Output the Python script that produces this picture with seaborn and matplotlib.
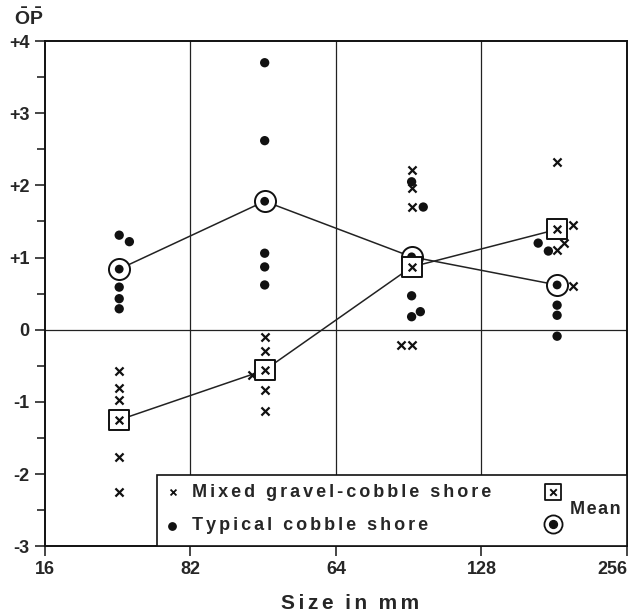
import pandas as pd
import matplotlib.pyplot as plt
import seaborn as sns
from matplotlib.patches import Rectangle

# x positions are in size-class units (0 = 16 mm, 1 = 32 mm, 2 = 64 mm, ...)
mixed_x = [0.51, 0.51, 0.51, 0.51, 0.51,
           1.51, 1.51, 1.51, 1.51, 1.42,
           2.52, 2.52, 2.52, 2.45, 2.52,
           3.52, 3.52, 3.63, 3.63, 3.57]
mixed_y = [-0.57, -0.81, -0.97, -1.76, -2.25,
           -0.10, -0.29, -0.84, -1.12, -0.63,
           2.21, 1.96, 1.70, -0.21, -0.21,
           2.33, 1.11, 1.45, 0.60, 1.20]
typical_x = [0.51, 0.58, 0.51, 0.51, 0.51,
             1.51, 1.51, 1.51, 1.51, 1.51,
             2.52, 2.52, 2.52, 2.60, 2.58,
             3.39, 3.46, 3.52, 3.52, 3.52]
typical_y = [1.31, 1.22, 0.59, 0.43, 0.29,
             3.70, 2.62, 1.06, 0.87, 0.62,
             2.05, 0.47, 0.18, 1.70, 0.25,
             1.20, 1.09, 0.34, 0.20, -0.09]
mean_x = [0.51, 1.51, 2.52, 3.52]
mixed_mean = [-1.25, -0.56, 0.87, 1.39]
typical_mean = [0.84, 1.78, 1.01, 0.62]

x_ticks = [0, 1, 2, 3, 4]
x_labels = ['16', '82', '64', '128', '256']
y_ticks = [4, 3, 2, 1, 0, -1, -2, -3]
y_labels = ['+4', '+3', '+2', '+1', '0', '-1', '-2', '-3']

sns.set_style('white')
plt.rcParams['font.family'] = ['Liberation Sans', 'DejaVu Sans']
plt.rcParams['font.weight'] = 'bold'
plt.rcParams['mathtext.fontset'] = 'custom'
plt.rcParams['mathtext.bf'] = 'Liberation Sans:bold'
plt.rcParams['mathtext.rm'] = 'Liberation Sans:bold'

HAIR = '\u200a'


def spaced(s, sep=HAIR * 2):
    # the old lettering is spaced out
    return sep.join(s)


fig = plt.figure(figsize=(6.43, 6.13), dpi=100)
ax = fig.add_axes([0.070, 0.109, 0.905, 0.824])

pts_mixed = pd.DataFrame({'x': mixed_x, 'y': mixed_y})
pts_typical = pd.DataFrame({'x': typical_x, 'y': typical_y})
means = pd.DataFrame({'x': mean_x, 'mixed': mixed_mean, 'typical': typical_mean})

# grid
for xv in [1, 2, 3]:
    ax.axvline(xv, color='#222222', lw=0.9, zorder=1)
ax.axhline(0, color='#222222', lw=0.9, zorder=1)

# mean lines
sns.lineplot(data=means, x='x', y='mixed', color='#222222', lw=1.1,
             sort=False, estimator=None, ax=ax, zorder=2)
sns.lineplot(data=means, x='x', y='typical', color='#222222', lw=1.1,
             sort=False, estimator=None, ax=ax, zorder=2)

# data points
sns.scatterplot(data=pts_mixed, x='x', y='y', marker='x', s=34, color='#111111',
                linewidth=1.6, ax=ax, zorder=3)
sns.scatterplot(data=pts_typical, x='x', y='y', marker='o', s=45, color='#111111',
                edgecolor='none', ax=ax, zorder=3)

# mean markers
sns.scatterplot(data=means, x='x', y='typical', marker='o', s=230, color='white',
                edgecolor='#111111', linewidth=1.4, ax=ax, zorder=4)
sns.scatterplot(data=means, x='x', y='typical', marker='o', s=40, color='#111111',
                edgecolor='none', ax=ax, zorder=5)
sns.scatterplot(data=means, x='x', y='mixed', marker='s', s=190, color='white',
                edgecolor='#111111', linewidth=1.4, ax=ax, zorder=6)
sns.scatterplot(data=means, x='x', y='mixed', marker='x', s=30, color='#111111',
                linewidth=1.6, ax=ax, zorder=7)

ax.set_xlim(0, 4)
ax.set_ylim(-3, 4)
ax.set_xticks(x_ticks)
ax.set_xticklabels(x_labels, fontsize=13, fontweight='bold')
ax.get_xticklabels()[-1].set_horizontalalignment('right')
ax.set_yticks(y_ticks)
ax.set_yticklabels(y_labels, fontsize=13, fontweight='bold')
ax.set_yticks([3.5, 2.5, 1.5, 0.5, -0.5, -1.5, -2.5], minor=True)
ax.tick_params(axis='both', which='major', direction='out', length=7, width=1.2,
               left=True, bottom=True, pad=4)
ax.tick_params(axis='y', which='minor', direction='out', length=6, width=1.2, left=True)
for sp in ax.spines.values():
    sp.set_linewidth(1.4)
    sp.set_color('#111111')

ax.set_xlabel('')
ax.set_ylabel('')
xlab = '  '.join(spaced(w, HAIR * 2) for w in ['Size', 'in', 'mm'])
fig.text(350 / 643, 1 - 609 / 613, xlab, fontsize=15,
         fontweight='bold', ha='center', va='baseline')
fig.text(0.022, 0.952, r'$\mathbf{\bar{O}\bar{P}}$', fontsize=14, va='bottom', ha='left')

# legend box
ax.add_patch(Rectangle((0.192, 0), 0.808, 0.1406, transform=ax.transAxes,
                       facecolor='white', edgecolor='#111111', lw=1.2, zorder=8))
ax.scatter([0.22], [0.107], marker='x', s=18, color='#111111', linewidth=1.3,
           transform=ax.transAxes, zorder=9, clip_on=False)
ax.scatter([0.218], [0.04], marker='o', s=28, color='#111111',
           transform=ax.transAxes, zorder=9, clip_on=False)
ax.text(0.252, 0.107, spaced('Mixed gravel-cobble shore'), transform=ax.transAxes,
        fontsize=13, fontweight='bold', va='center', zorder=9)
ax.text(0.252, 0.04, spaced('Typical cobble shore'), transform=ax.transAxes,
        fontsize=13, fontweight='bold', va='center', zorder=9)
ax.scatter([0.873], [0.107], marker='s', s=130, color='white', edgecolor='#111111',
           linewidth=1.3, transform=ax.transAxes, zorder=9)
ax.scatter([0.873], [0.107], marker='x', s=22, color='#111111', linewidth=1.4,
           transform=ax.transAxes, zorder=10)
ax.scatter([0.873], [0.043], marker='o', s=170, color='white', edgecolor='#111111',
           linewidth=1.3, transform=ax.transAxes, zorder=9)
ax.scatter([0.873], [0.043], marker='o', s=32, color='#111111',
           transform=ax.transAxes, zorder=10)
ax.text(0.902, 0.072, spaced('Mean', HAIR), transform=ax.transAxes, fontsize=13,
        fontweight='bold', va='center', zorder=9)

fig.savefig('out.png', dpi=100)
